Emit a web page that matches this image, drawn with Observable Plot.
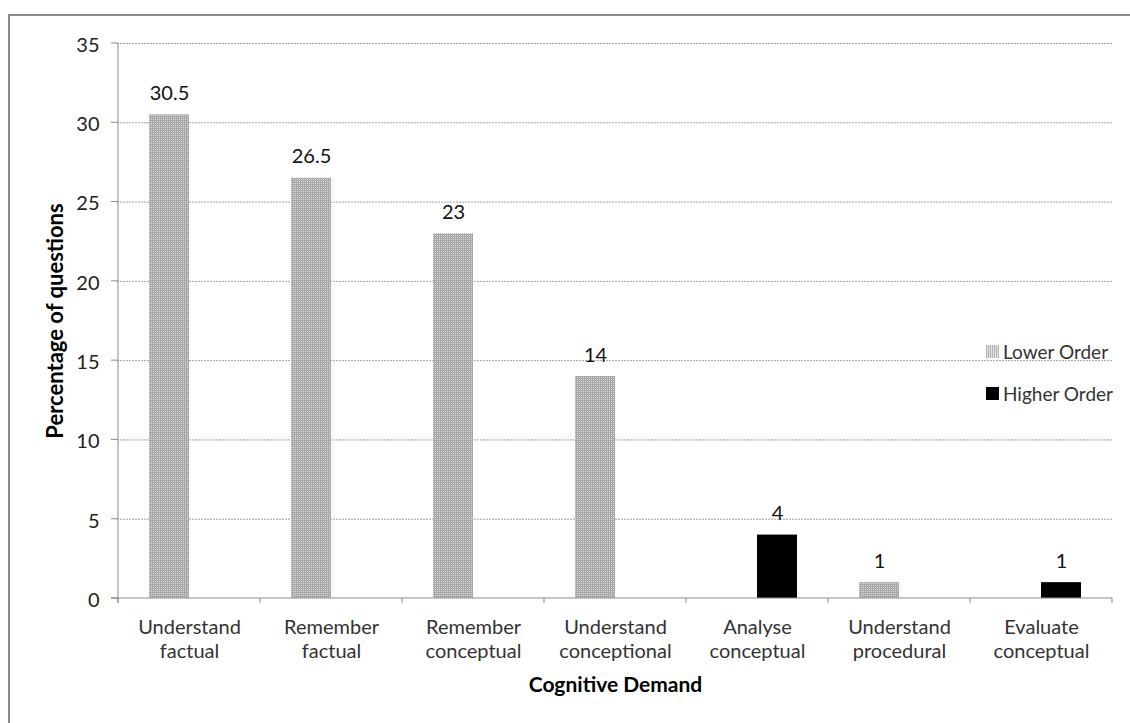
<!DOCTYPE html>
<html>
<head>
<meta charset="utf-8">
<script src="https://cdn.jsdelivr.net/npm/d3@7"></script>
<script src="https://cdn.jsdelivr.net/npm/@observablehq/plot@0.6"></script>
<style>
  html, body { margin: 0; padding: 0; background: #fff; overflow: hidden; }
  body { position: relative; width: 1130px; height: 723px; font-family: Lato, "Liberation Sans", sans-serif; }
  #frame { position: absolute; left: 8px; top: 14px; width: 1200px; height: 800px; border-left: 2px solid #8c8c8c; border-top: 2px solid #8c8c8c; }
  #chart { position: absolute; left: 0; top: 0; }
  #legend { position: absolute; left: 986px; top: 341px; font-size: 19px; color: #333; }
  #legend .item { display: flex; align-items: center; height: 20px; margin-bottom: 22px; white-space: nowrap; }
  #legend svg { margin-right: 4px; }
</style>
</head>
<body>
<div id="frame"></div>
<div id="chart"></div>
<div id="legend"></div>
<script>
const categories = ["Understand\nfactual", "Remember\nfactual", "Remember\nconceptual", "Understand\nconceptional", "Analyse\nconceptual", "Understand\nprocedural", "Evaluate\nconceptual"];
const lowerOrder = [30.5, 26.5, 23, 14, null, 1, null];
const higherOrder = [null, null, null, null, 4, null, 1];
const yTicks = [0, 5, 10, 15, 20, 25, 30, 35];
const seriesNames = ["Lower Order", "Higher Order"];

const lowRows = categories.map((c, i) => ({cat: c, v: lowerOrder[i]})).filter(d => d.v != null);
const highRows = categories.map((c, i) => ({cat: c, v: higherOrder[i]})).filter(d => d.v != null);

const PAT = "url(#lowPat)";
const font = "Lato, 'Liberation Sans', sans-serif";

function axisLines(index, scales, values, dimensions) {
  const g = d3.create("svg:g").attr("stroke", "#8c8c8c").attr("stroke-width", 1);
  const y0 = scales.y(0);
  const bw = scales.x.bandwidth();
  const xs = categories.map(c => scales.x(c));
  xs.push(xs[xs.length - 1] + bw);
  for (const x of xs) {
    g.append("line").attr("x1", x).attr("x2", x).attr("y1", y0).attr("y2", y0 + 5);
  }
  const x0 = xs[0];
  for (const t of yTicks) {
    g.append("line").attr("x1", x0 - 7).attr("x2", x0).attr("y1", scales.y(t)).attr("y2", scales.y(t));
  }
  g.append("line").attr("x1", x0).attr("x2", x0).attr("y1", scales.y(35)).attr("y2", y0 + 5);
  g.append("line").attr("x1", x0 - 7).attr("x2", xs[xs.length - 1]).attr("y1", y0).attr("y2", y0);
  return g.node();
}

const chart = Plot.plot({
  width: 1130,
  height: 723,
  marginLeft: 117,
  marginRight: 17,
  marginTop: 43,
  marginBottom: 125,
  style: {fontFamily: font, fontSize: "20px", color: "#222", background: "transparent"},
  x: {domain: categories, padding: 0, label: null},
  y: {domain: [0, 35], label: null},
  marks: [
    Plot.gridY(yTicks.filter(t => t > 0), {stroke: "#a0a0a0", strokeOpacity: 1, strokeDasharray: "2,1"}),
    Plot.axisY({ticks: yTicks, tickSize: 0, tickPadding: 18, fill: "#222", fontSize: 20, dy: 2, label: null}),
    Plot.axisX({tickSize: 0, tickPadding: 18, fill: "#333", fontSize: 20, lineHeight: 1.2, label: null}),
    Plot.barY(lowRows, {x: "cat", y: "v", fill: PAT, insetLeft: 31, insetRight: 71}),
    Plot.barY(highRows, {x: "cat", y: "v", fill: "#000", insetLeft: 71, insetRight: 31}),
    Plot.text(lowRows, {x: "cat", y: "v", text: d => String(d.v), dx: -20, dy: -15, lineAnchor: "bottom", fill: "#111", fontSize: 20}),
    Plot.text(highRows, {x: "cat", y: "v", text: d => String(d.v), dx: 20, dy: -15, lineAnchor: "bottom", fill: "#111", fontSize: 20}),
    axisLines,
    Plot.text(["Percentage of questions"], {frameAnchor: "left", textAnchor: "middle", lineAnchor: "middle", rotate: -90, dx: -62, fontWeight: "bold", fontSize: 22, fill: "#000"}),
    Plot.text(["Cognitive Demand"], {frameAnchor: "bottom", textAnchor: "middle", dy: 87, lineAnchor: "middle", fontWeight: "bold", fontSize: 21, fill: "#000"})
  ]
});

chart.insertAdjacentHTML("afterbegin",
  `<defs><pattern id="lowPat" width="2" height="2" patternUnits="userSpaceOnUse">
     <rect width="2" height="2" fill="#dcdcdc"/>
     <rect width="1" height="2" fill="#a6a6a6"/>
     <rect width="2" height="1" fill="#a6a6a6"/>
   </pattern></defs>`);
document.getElementById("chart").appendChild(chart);

const legend = document.getElementById("legend");
seriesNames.forEach((name, i) => {
  const item = document.createElement("div");
  item.className = "item";
  const fill = i === 0 ? "url(#lowPatL)" : "#000";
  item.innerHTML = `<svg width="13" height="13"><defs><pattern id="lowPatL" width="2" height="2" patternUnits="userSpaceOnUse"><rect width="2" height="2" fill="#e4e4e4"/><rect width="1" height="2" fill="#b0b0b0"/></pattern></defs><rect width="13" height="13" fill="${fill}"/></svg><span>${name}</span>`;
  legend.appendChild(item);
});
</script>
</body>
</html>
